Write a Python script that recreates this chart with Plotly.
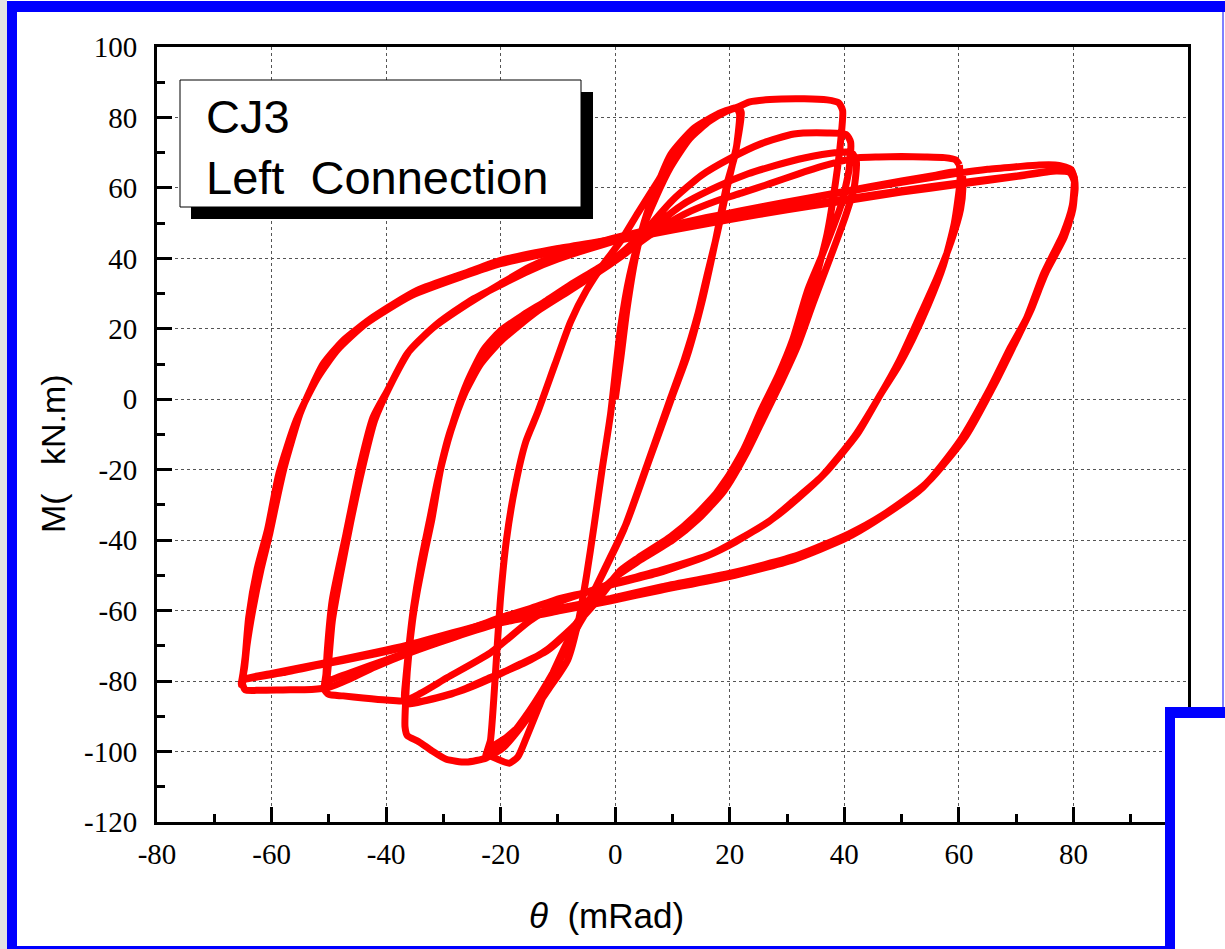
import plotly.graph_objects as go

# ---------------- data ----------------
# 20 mRad cycles (theta in mRad, M in kN.m)
theta_20 = [0, 1, 2, 3.5, 5, 7.4, 9.7, 13.8, 18.5, 21.2,
            21.7, 21, 19.5, 17.5, 15.2, 12.5, 10, 6, 2, -1.5, -4.2, -7.2, -10.7, -13.5, -15.5, -17, -18.5, -20.5, -22.4,
            -21.8, -21.2, -20.6, -20, -19, -17.5, -15.6, -13.6, -10.5, -7.8, -5, -2, 1, 4, 7.5, 10.5, 14, 18, 21.5,
            22, 21.2, 19.8, 17.8, 16, 14.4, 12, 9.7, 5.7, 1.5, -2, -4.6, -7.5, -11, -15, -18.5, -21.5, -22.6,
            -22.2, -19, -15, -11.5, -8.3, -6.3, -5, -3.7, -2.3, -0.8, 0.9, 2.5, 4.5, 7, 9.7, 13, 16.5, 19.5, 21.5]
m_20 = [0, 12, 25, 40, 50, 61, 69.5, 77, 81.4, 82.6,
        81, 70, 61, 45, 28, 12, 1, -17, -35, -47, -56, -65, -77, -88, -96, -101.5, -103.3, -102.2, -100.5,
        -97, -85, -70, -56, -40, -25, -12, -4, 10, 22, 31, 38.5, 45, 53, 62, 70, 77, 81, 82.8,
        81.5, 72, 62, 47, 35, 24, 11, 0.5, -18, -37, -49, -57.5, -67, -78, -88.5, -96, -100.3, -101.2,
        -99.5, -96, -90, -82, -74, -62, -50, -36, -20, -4, 20, 35, 47, 57, 66, 74, 79, 81.8, 83]

# 40 / -35 mRad cycles
theta_40 = [21.5, 23.5, 27, 33, 37, 39, 39.7,
            39.4, 38.5, 37, 34.8, 32.3, 29.7, 27, 24, 20.5, 15.6, 9.7, 4, 0, -3, -6, -9, -12.5, -16, -19.5, -22.5,
            -26, -29.5, -32, -34.3, -36.3,
            -36.7, -36.6, -36.2, -35.4, -34.5, -33.3, -32, -30.5, -28.2, -25.8, -23, -20, -16, -12, -7.8, -3.2, 0.9,
            5, 10, 15, 20, 25.4, 31.2, 37, 40.3, 41.1,
            40.8, 39.4, 36.4, 33.6, 31, 28.5, 25.5, 22.5, 18.5, 14, 9.7, 4, 1, -3.6, -7, -11.8, -16, -21.8, -26,
            -29.3, -33, -36.3, -36.7,
            -36.4, -35.9, -35.1, -33.8, -32.3, -30.8, -28.7, -26.2, -23.2, -20, -13.6, -7.8, -3, 1, 6, 12, 18, 23.2,
            28, 33, 38.3, 41.3, 42.1,
            41.7, 40.2, 37.5, 34.7, 31.8, 29, 26, 23, 19, 14.5, 10, 4.5, 1, -3.6, -7.2, -12, -17, -22, -26.5, -30,
            -33.5, -36.4, -36.8,
            -36.6, -36, -35.2, -34, -32.5, -31, -29, -26.5, -23.5, -20, -13.6, -7.8, -3, 1, 6, 12, 18, 22, 27, 32,
            36.5, 40, 42.4, 46, 50, 54, 57.5, 59.4, 60.1]
m_40 = [83, 84.4, 85.1, 85.3, 85, 84.2, 82,
        74, 62, 47, 33, 19, 8, -1, -10, -20, -31, -39.5, -46, -50.5, -55.5, -63, -72, -83, -92, -98.8, -101.8,
        -103, -102.2, -99.8, -97.2, -95.5,
        -93, -86, -75, -63, -54, -44, -34, -20, -6, 5, 14, 19.5, 24, 28, 32.5, 37, 41.3,
        47.5, 56.5, 63.5, 68.3, 72.5, 75.3, 75.6, 75.2, 73,
        65, 55, 42, 31, 17, 7, -3, -14, -25, -33, -39, -45, -48.5, -57.5, -64, -71, -75, -79, -82,
        -84, -85.5, -86.5, -85,
        -79, -70, -59, -46, -34, -22, -9, 2, 11, 17, 25.5, 31.5, 36.5, 41, 48, 55.5, 60.5, 64,
        66.4, 68.5, 70, 70, 67.5,
        60, 52, 40, 28, 15, 5, -5, -15, -26, -34, -40, -45.5, -49, -58, -64.5, -71.5, -75.5, -79.5, -82.5, -84.2,
        -85.6, -86.2, -84.5,
        -80, -70, -59, -47, -35, -23, -10, 1, 10, 16.5, 25, 31, 36, 40.5, 46.5, 52.5, 56.5, 58.5, 61.2, 64,
        66.3, 67.8, 68.6, 68.8, 68.9, 68.8, 68.6, 68, 66.5]

# 60 / -50 mRad cycles
theta_60 = [60.1, 60.2, 59.2, 57.3, 54.7, 51.9, 49.3, 46.4, 42.3, 36.5, 32, 27.7, 22, 16.7, 7.9, -0.8, -5, -9.6,
            -15, -21.8, -29.3, -34, -36.7, -40, -44, -47.5, -50, -50.8,
            -50.5, -50.3, -49.4, -47, -44.6, -42.3, -39.8, -36.3, -31.7, -25.8, -20, -15, -10.7, -2, 5, 10, 16, 22,
            30, 40, 50, 56, 59.5, 60.6, 60.7,
            60.3, 58.7, 56.3, 53, 49.6, 46, 41.8, 36, 31, 27, 21, 16, 7.5, -1, -5, -9.6, -15, -20, -30, -40, -46,
            -50, -50.5, -50.3,
            -50, -49.4, -48, -46.2, -44.2, -42, -39.4, -35.8, -31, -25.3, -20, -15, -10, -2, 5, 10, 20, 30, 40, 50,
            60, 65, 70, 74, 77.5, 79.6, 80.2]
m_60 = [66.5, 62, 50, 38, 27, 17, 9, 1.6, -9.8, -21.2, -28, -33.7, -39.4, -44, -48.6, -52.4, -54.8, -57.4,
        -63, -72, -79, -83.5, -85.6, -85.4, -84.8, -84.2, -83.8, -82.3,
        -78, -72, -57, -38.2, -19.4, -5.2, 2.4, 13, 20.4, 27, 32.8, 37.5, 40.5, 45, 47.8, 49.5, 51.6, 53.5,
        56, 59, 62, 63.6, 64.6, 63.5, 60,
        54, 45, 35, 23, 11, 0.5, -10.5, -22, -29, -34.5, -40.5, -44.5, -49.3, -52.8, -54.8, -56.5, -59.5, -62,
        -68, -74, -77.5, -80, -81.5, -79,
        -74, -63, -50, -35, -20, -6, 3.5, 14, 21.5, 28, 32.5, 36.5, 39.8, 44, 47, 48.8, 52.5, 55.8, 58.8, 61.6,
        64.2, 65.3, 66, 66.5, 66.4, 65.2, 62.5]

# 80 / -65 mRad cycles
theta_80 = [80.2, 79.8, 78.2, 74.8, 71.8, 69, 65.5, 60.2, 53.7, 45.5, 40.2, 31.2, 19.7, 7.9, -0.8, -9.6, -20,
            -28, -36.3, -42, -46.5, -50, -53, -58, -62, -64.6, -65.1,
            -64.7, -64.3, -63.3, -61.8, -60.3, -59, -57.8, -55, -53, -51, -47.5, -42.3, -34.6, -25.9, -20, -10, 0,
            10, 20, 30, 40, 50, 60, 70, 76, 78.8, 80, 80.3,
            79.7, 78.4, 75.2, 72.2, 69.4, 66, 60.8, 54.2, 46.2, 40.5, 31.5, 20, 8, -1, -10, -20, -28, -36.3, -44,
            -51.2, -58, -63, -64.8, -65.3, -65,
            -64.6, -64, -62.5, -60.7, -58.7, -55.7, -52, -48.5, -43.5, -35.5, -26.5, -20, -10, 0, 10, 20, 30, 40,
            50, 60, 70, 77, 79.4, 80.2,
            79.9, 78.6, 75.4, 72.5, 69.8, 66.3, 61.2, 54.6, 46.6, 40.8, 31.8, 20.3, 8.2, -0.8, -10, -20, -36.3,
            -51.2, -60, -64.5, -65.2]
m_80 = [62.5, 55, 47, 35.7, 23, 14.7, 3.3, -11.8, -25, -34.5, -39.5, -45.5, -50.4, -54.2, -57.2, -60, -63.5,
        -67.5, -72.2, -76, -79.5, -81.8, -82.4, -82.5, -82.6, -82.5, -80.5,
        -76, -70, -60, -48, -38, -28, -19.4, -4, 3.5, 10, 16.7, 23.3, 30.9, 36, 39.4, 42.8, 45.5,
        48.5, 51.5, 54.2, 56.8, 59.2, 61.4, 63.4, 64.8, 65, 63.5, 60,
        53, 46, 36, 24, 15.3, 4, -11, -24, -33.6, -38.8, -44.8, -49.8, -53.6, -56.8, -59.8, -63, -66.5, -70.2,
        -73, -75.3, -77.6, -79, -79.6, -81, -78,
        -73, -62, -48, -37, -21, -6, 6, 14, 21.5, 29.5, 35, 38.5, 42, 45, 48, 51, 53.8, 56.3,
        58.8, 61, 63.2, 64.8, 64.3, 61.5,
        54, 47.5, 37, 25, 16, 4.5, -10.5, -23.5, -33, -38.2, -44.3, -49.3, -53.2, -56.5, -59.4, -62.6, -69.8,
        -75, -77.8, -79.3, -80.3]

x_tick_vals = [-80, -60, -40, -20, 0, 20, 40, 60, 80]
x_tick_text = ["-80", "-60", "-40", "-20", "0", "20", "40", "60", "80"]
x_minor_vals = [-70, -50, -30, -10, 10, 30, 50, 70, 90]
y_tick_vals = [-120, -100, -80, -60, -40, -20, 0, 20, 40, 60, 80, 100]
y_tick_text = ["-120", "-100", "-80", "-60", "-40", "-20", "0", "20", "40", "60", "80", "100"]
y_minor_vals = [-110, -90, -70, -50, -30, -10, 10, 30, 50, 70, 90]

box_title = "CJ3<br>Left&nbsp; Connection"
x_title = "<i>θ</i>&nbsp; (mRad)"
y_title = "M(&nbsp;&nbsp; kN.m)"

# ---------------- figure ----------------
W, H = 1225, 949
L, R, T, B = 157, 37, 47, 127
pw, ph = W - L - R, H - T - B


def px(xp):
    return (xp - L) / pw


def py(yp):
    return (H - B - yp) / ph


fig = go.Figure()
for tx, my in [(theta_20, m_20), (theta_40, m_40), (theta_60, m_60), (theta_80, m_80)]:
    fig.add_trace(go.Scatter(x=tx, y=my, mode="lines",
                             line=dict(color="#ff0000", width=7, shape="spline", smoothing=0.6),
                             showlegend=False, hoverinfo="skip"))

tickfont = dict(family="Liberation Serif, Times New Roman, serif", size=29, color="black")
common = dict(showline=True, linecolor="black", linewidth=3, mirror=True,
              ticks="inside", ticklen=15, tickwidth=3, tickcolor="black",
              showgrid=True, gridcolor="#555555", gridwidth=1, griddash="dot",
              zeroline=False, tickfont=tickfont)

fig.update_xaxes(range=[-80, 100], tickmode="array", tickvals=x_tick_vals, ticktext=x_tick_text,
                 minor=dict(tickvals=x_minor_vals, ticks="inside", ticklen=8, tickwidth=3,
                            tickcolor="black", showgrid=False),
                 ticklabelstandoff=4, **common)
fig.update_yaxes(range=[-120, 100], tickmode="array", tickvals=y_tick_vals, ticktext=y_tick_text,
                 minor=dict(tickvals=y_minor_vals, ticks="inside", ticklen=8, tickwidth=3,
                            tickcolor="black", showgrid=False),
                 ticklabelstandoff=11, **common)

shapes = []
# text box with shadow
shapes.append(dict(type="rect", xref="paper", yref="paper", x0=px(191), x1=px(593), y0=py(219), y1=py(92),
                   fillcolor="black", line=dict(width=0), layer="above"))
shapes.append(dict(type="rect", xref="paper", yref="paper", x0=px(180), x1=px(581), y0=py(207), y1=py(80),
                   fillcolor="white", line=dict(color="black", width=1), layer="above"))
# blue frame
blue = "#0000ff"
shapes.append(dict(type="rect", xref="paper", yref="paper", x0=px(0), x1=px(7), y0=py(949), y1=py(0),
                   fillcolor="#e2e2e2", line=dict(width=0), layer="above"))
shapes.append(dict(type="rect", xref="paper", yref="paper", x0=px(7), x1=px(1225), y0=py(12), y1=py(1),
                   fillcolor=blue, line=dict(width=0), layer="above"))
shapes.append(dict(type="rect", xref="paper", yref="paper", x0=px(7), x1=px(17), y0=py(949), y1=py(1),
                   fillcolor=blue, line=dict(width=0), layer="above"))
shapes.append(dict(type="rect", xref="paper", yref="paper", x0=px(7), x1=px(1175), y0=py(949), y1=py(946),
                   fillcolor=blue, line=dict(width=0), layer="above"))
shapes.append(dict(type="rect", xref="paper", yref="paper", x0=px(1222), x1=px(1224), y0=py(707), y1=py(12),
                   fillcolor="#8080ff", line=dict(width=0), layer="above"))
# bottom-right overlapping box
shapes.append(dict(type="rect", xref="paper", yref="paper", x0=px(1165), x1=px(1226), y0=py(950), y1=py(707),
                   fillcolor="white", line=dict(width=0), layer="above"))
shapes.append(dict(type="rect", xref="paper", yref="paper", x0=px(1165), x1=px(1175), y0=py(950), y1=py(707),
                   fillcolor=blue, line=dict(width=0), layer="above"))
shapes.append(dict(type="rect", xref="paper", yref="paper", x0=px(1165), x1=px(1226), y0=py(718), y1=py(707),
                   fillcolor=blue, line=dict(width=0), layer="above"))

annotations = [
    dict(text=box_title, xref="paper", yref="paper", x=px(204), y=py(147), xanchor="left", yanchor="middle",
         align="left", showarrow=False,
         font=dict(family="Liberation Sans, Arial, sans-serif", size=47, color="black")),
    dict(text=x_title, xref="paper", yref="paper", x=px(606), y=py(915), xanchor="center", yanchor="middle",
         showarrow=False, font=dict(family="Liberation Sans, Arial, sans-serif", size=35, color="black")),
    dict(text=y_title, xref="paper", yref="paper", x=px(53), y=py(454), xanchor="center", yanchor="middle",
         textangle=-90, showarrow=False,
         font=dict(family="Liberation Sans, Arial, sans-serif", size=34, color="black")),
]

fig.update_layout(width=W, height=H, margin=dict(l=L, r=R, t=T, b=B, pad=0),
                  paper_bgcolor="white", plot_bgcolor="white",
                  shapes=shapes, annotations=annotations, showlegend=False)

fig.write_html("out.html", config={"displayModeBar": False},
               post_script="document.body.style.margin='0';")
